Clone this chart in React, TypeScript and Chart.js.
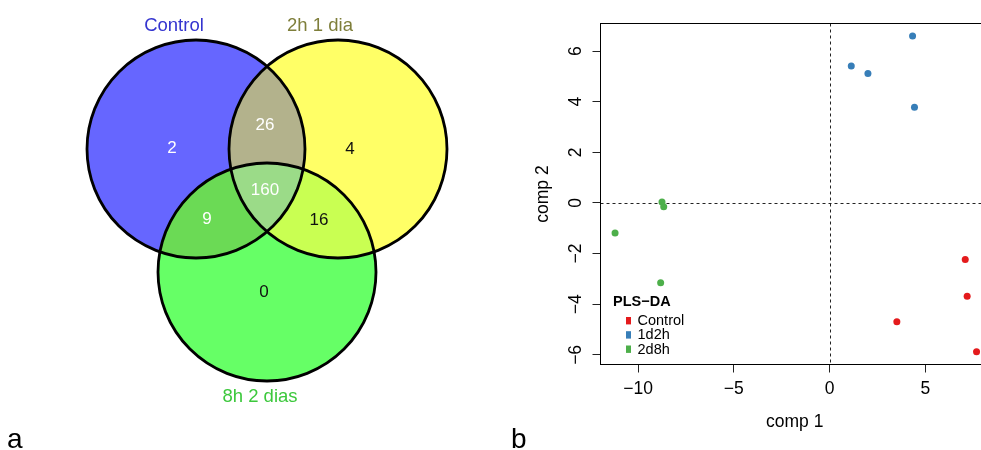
import React, { useEffect, useRef } from 'react';
import { Chart, registerables } from 'chart.js';

Chart.register(...registerables);

const FONT = '"Liberation Sans", Arial, Helvetica, sans-serif';

// ---------------- Venn data ----------------
const vennSetNames = ['Control', '2h 1 dia', '8h 2 dias'];
// regions: Control only, 2h only, 8h only, Control∩2h, Control∩8h, 2h∩8h, all three
const vennRegionNames = ['Control', '2h 1 dia', '8h 2 dias', 'Control+2h', 'Control+8h', '2h+8h', 'todos'];
const vennRegionCounts = [2, 4, 0, 26, 9, 16, 160];

// Venn layout (in the venn chart's own data units)
const vennCenterX = [196, 338, 267];
const vennCenterY = [149, 149, 272];
const vennRadius = 109;
const vennTitleX = [174, 320, 260];
const vennTitleY = [26, 26, 397];
const vennCountX = [172, 350, 264, 265, 207, 319, 265];
const vennCountY = [148, 149, 292, 125, 219, 220, 190];

// Venn styles
const vennSetFill = ['#6666FF', '#FFFF66', '#66FF66'];
const vennPairFill = ['#B3B28C', '#6BDA55', '#C9FF52']; // C∩Y, C∩G, Y∩G
const vennTripleFill = '#9BDB88';
const vennTitleColor = ['#3434CF', '#7E7E3A', '#3CC83C'];
const vennCountColor = ['#FFFFFF', '#111111', '#111111', '#FFFFFF', '#FFFFFF', '#111111', '#FFFFFF'];

// ---------------- PLS-DA data ----------------
const plsGroups = ['Control', '1d2h', '2d8h'];
const controlComp1 = [7.08, 7.18, 3.51, 7.67];
const controlComp2 = [-2.23, -3.68, -4.69, -5.88];
const d1h2Comp1 = [1.13, 2.0, 4.33, 4.43];
const d1h2Comp2 = [5.41, 5.11, 6.6, 3.78];
const d2h8Comp1 = [-8.75, -8.66, -11.2, -8.82];
const d2h8Comp2 = [0.04, -0.15, -1.19, -3.15];
const comp1Ticks = [-10, -5, 0, 5];
const comp2Ticks = [-6, -4, -2, 0, 2, 4, 6];
const comp1Range = [-11.96, 8.32];
const comp2Range = [-6.38, 7.09];

const plsColors = ['#E41A1C', '#377EB8', '#4DAF4A'];

const fmt = (v: number) => (v < 0 ? '\u2212' + String(-v) : String(v));

function VennChart() {
  const ref = useRef<HTMLCanvasElement>(null);
  useEffect(() => {
    const radiusPx = (chart: any) => {
      const s = chart.scales.x;
      return s.getPixelForValue(vennRadius) - s.getPixelForValue(0);
    };
    const circ = (chart: any, i: number) => {
      const p = chart.getDatasetMeta(i).data[0];
      return { x: p.x, y: p.y, r: radiusPx(chart) };
    };
    const vennPlugin = {
      id: 'vennOverlay',
      afterDatasetsDraw(chart: any) {
        const ctx = chart.ctx;
        const c = [0, 1, 2].map((i) => circ(chart, i));
        const path = (k: number) => {
          ctx.beginPath();
          ctx.arc(c[k].x, c[k].y, c[k].r, 0, Math.PI * 2);
        };
        const pairs = [
          [0, 1],
          [0, 2],
          [1, 2],
        ];
        pairs.forEach(([a, b], idx) => {
          ctx.save();
          path(a);
          ctx.clip();
          path(b);
          ctx.fillStyle = vennPairFill[idx];
          ctx.fill();
          ctx.restore();
        });
        ctx.save();
        path(0);
        ctx.clip();
        path(1);
        ctx.clip();
        path(2);
        ctx.fillStyle = vennTripleFill;
        ctx.fill();
        ctx.restore();
        ctx.save();
        ctx.strokeStyle = '#000';
        ctx.lineWidth = 2.8;
        [0, 1, 2].forEach((k) => {
          path(k);
          ctx.stroke();
        });
        ctx.restore();
        const sx = chart.scales.x;
        const sy = chart.scales.y;
        ctx.save();
        ctx.textAlign = 'center';
        ctx.textBaseline = 'middle';
        ctx.font = `18.5px ${FONT}`;
        vennSetNames.forEach((name, i) => {
          ctx.fillStyle = vennTitleColor[i];
          ctx.fillText(name, sx.getPixelForValue(vennTitleX[i]), sy.getPixelForValue(vennTitleY[i]));
        });
        ctx.font = `17px ${FONT}`;
        vennRegionCounts.forEach((n, i) => {
          ctx.fillStyle = vennCountColor[i];
          ctx.fillText(String(n), sx.getPixelForValue(vennCountX[i]), sy.getPixelForValue(vennCountY[i]));
        });
        ctx.restore();
      },
    };
    const chart = new Chart(ref.current as HTMLCanvasElement, {
      type: 'scatter',
      data: {
        datasets: vennSetNames.map((name, i) => ({
          label: name,
          data: [{ x: vennCenterX[i], y: vennCenterY[i] }],
          backgroundColor: vennSetFill[i],
          borderWidth: 0,
          pointRadius: (c: any) => radiusPx(c.chart),
          pointHoverRadius: (c: any) => radiusPx(c.chart),
          clip: false,
        })),
      } as any,
      options: {
        animation: false,
        responsive: false,
        maintainAspectRatio: false,
        events: [],
        layout: { padding: 0 },
        plugins: { legend: { display: false }, tooltip: { enabled: false } },
        scales: {
          x: { type: 'linear', display: false, min: 0, max: 500 },
          y: { type: 'linear', display: false, min: 0, max: 450, reverse: true },
        },
      } as any,
      plugins: [vennPlugin],
    });
    return () => chart.destroy();
  }, []);
  return (
    <canvas
      ref={ref}
      width={500}
      height={450}
      style={{ position: 'absolute', left: 0, top: 0, width: 500, height: 450 }}
    />
  );
}

function PlsChart() {
  const ref = useRef<HTMLCanvasElement>(null);
  useEffect(() => {
    const xs = [controlComp1, d1h2Comp1, d2h8Comp1];
    const ys = [controlComp2, d1h2Comp2, d2h8Comp2];
    const framePlugin = {
      id: 'plsFrame',
      beforeDatasetsDraw(chart: any) {
        const ctx = chart.ctx;
        const a = chart.chartArea;
        const sx = chart.scales.x;
        const sy = chart.scales.y;
        ctx.save();
        ctx.strokeStyle = '#222';
        ctx.lineWidth = 1;
        ctx.setLineDash([3, 3]);
        const x0 = Math.round(sx.getPixelForValue(0)) + 0.5;
        const y0 = Math.round(sy.getPixelForValue(0)) + 0.5;
        ctx.beginPath();
        ctx.moveTo(x0, a.top);
        ctx.lineTo(x0, a.bottom);
        ctx.moveTo(a.left, y0);
        ctx.lineTo(a.right, y0);
        ctx.stroke();
        ctx.setLineDash([]);
        ctx.strokeStyle = '#000';
        ctx.strokeRect(a.left, a.top, a.right - a.left, a.bottom - a.top);
        ctx.restore();
      },
      afterDatasetsDraw(chart: any) {
        const ctx = chart.ctx;
        const a = chart.chartArea;
        ctx.save();
        ctx.textBaseline = 'middle';
        ctx.textAlign = 'left';
        ctx.fillStyle = '#000';
        ctx.font = `bold 14.5px ${FONT}`;
        ctx.fillText('PLS\u2212DA', a.left + 12.5, a.bottom - 63);
        ctx.font = `14.5px ${FONT}`;
        const rows = [-43.8, -29.6, -15.3];
        chart.data.datasets.forEach((ds: any, i: number) => {
          const y = a.bottom + rows[i];
          ctx.fillStyle = ds.backgroundColor;
          ctx.fillRect(a.left + 25.5, y - 3.7, 5, 7.4);
          ctx.fillStyle = '#000';
          ctx.fillText(ds.label, a.left + 37, y + 0.5);
        });
        ctx.restore();
      },
    };
    const tickFont = { family: FONT, size: 17.5 };
    const chart = new Chart(ref.current as HTMLCanvasElement, {
      type: 'scatter',
      data: {
        datasets: plsGroups.map((g, i) => ({
          label: g,
          data: xs[i].map((x, j) => ({ x, y: ys[i][j] })),
          backgroundColor: plsColors[i],
          borderWidth: 0,
          pointRadius: 3.5,
          pointHoverRadius: 3.5,
        })),
      },
      options: {
        animation: false,
        responsive: false,
        maintainAspectRatio: false,
        events: [],
        layout: { padding: { left: 0, top: 23.5, right: 11, bottom: 0 } },
        plugins: { legend: { display: false }, tooltip: { enabled: false } },
        scales: {
          x: {
            type: 'linear',
            min: comp1Range[0],
            max: comp1Range[1],
            afterBuildTicks: (s: any) => {
              s.ticks = comp1Ticks.map((v) => ({ value: v }));
            },
            afterFit: (s: any) => {
              s.height = 85.5;
            },
            grid: { drawOnChartArea: false, drawTicks: true, tickLength: 8, color: '#222', lineWidth: 1 },
            border: { display: false },
            ticks: {
              minRotation: 0,
              maxRotation: 0,
              padding: 6,
              font: tickFont,
              color: '#000',
              callback: (v: any) => fmt(Number(v)),
            },
            title: {
              display: true,
              text: 'comp 1',
              font: tickFont,
              color: '#000',
              padding: { top: 0, bottom: 17 },
            },
          },
          y: {
            type: 'linear',
            min: comp2Range[0],
            max: comp2Range[1],
            afterBuildTicks: (s: any) => {
              s.ticks = comp2Ticks.map((v) => ({ value: v }));
            },
            afterFit: (s: any) => {
              s.width = 80.5;
            },
            grid: { drawOnChartArea: false, drawTicks: true, tickLength: 8, color: '#222', lineWidth: 1 },
            border: { display: false },
            ticks: {
              minRotation: 90,
              maxRotation: 90,
              crossAlign: 'center',
              padding: 6,
              font: tickFont,
              color: '#000',
              callback: (v: any) => fmt(Number(v)),
            },
            title: {
              display: true,
              text: 'comp 2',
              font: tickFont,
              color: '#000',
              padding: { top: 13, bottom: 0 },
            },
          },
        },
      } as any,
      plugins: [framePlugin],
    });
    return () => chart.destroy();
  }, []);
  return (
    <canvas
      ref={ref}
      width={480}
      height={450}
      style={{ position: 'absolute', left: 520, top: 0, width: 480, height: 450 }}
    />
  );
}

export default function App() {
  const letter: React.CSSProperties = {
    position: 'absolute',
    top: 425,
    fontFamily: FONT,
    fontSize: 28,
    lineHeight: '28px',
    color: '#000',
  };
  return (
    <div
      style={{
        position: 'absolute',
        left: 0,
        top: 0,
        width: 981,
        height: 450,
        overflow: 'hidden',
        background: '#fff',
      }}
    >
      <VennChart />
      <PlsChart />
      <div style={{ ...letter, left: 7 }}>a</div>
      <div style={{ ...letter, left: 511 }}>b</div>
    </div>
  );
}
